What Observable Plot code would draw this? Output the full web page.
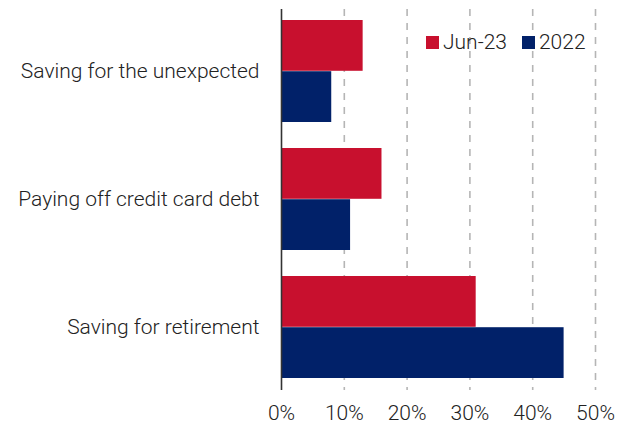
<!DOCTYPE html>
<html>
<head>
<meta charset="utf-8">
<script src="https://cdn.jsdelivr.net/npm/d3@7"></script>
<script src="https://cdn.jsdelivr.net/npm/@observablehq/plot@0.6"></script>
<style>
  html, body { margin: 0; padding: 0; background: #fff; }
  #wrap { position: relative; width: 630px; height: 431px; font-family: Roboto, "Noto Sans", sans-serif; font-weight: 300; }
  #legend { position: absolute; left: 426px; top: 30px; display: flex; align-items: center; font-size: 21px; color: #222; }
  .sw { display: inline-block; width: 13px; height: 13px; margin-right: 4px; }
  .item { display: flex; align-items: center; margin-right: 15px; }
</style>
</head>
<body>
<div id="wrap"></div>
<script>
const categories = ["Saving for the unexpected", "Paying off credit card debt", "Saving for retirement"];
const series = ["Jun-23", "2022"];
const valuesJun23 = [13, 16, 31];
const values2022 = [8, 11, 45];
const xTicks = [0, 10, 20, 30, 40, 50];
const colors = ["#C8102E", "#012169"];

const dataJun = categories.map((c, i) => ({category: c, value: valuesJun23[i]}));
const data22 = categories.map((c, i) => ({category: c, value: values2022[i]}));

const W = 630, H = 431, mt = 9, mb = 41, pIn = 0.2, pOut = 0.088;
const step = (H - mt - mb) / (categories.length - pIn + 2 * pOut);
const half = step * (1 - pIn) / 2;

const chart = Plot.plot({
  width: W,
  height: H,
  marginLeft: 281,
  marginRight: 35,
  marginTop: mt,
  marginBottom: mb,
  style: {fontFamily: "Roboto, 'Noto Sans', sans-serif", fontWeight: 300, fontSize: "21px", color: "#222", background: "#fff"},
  x: {domain: [0, 50], ticks: xTicks, tickFormat: d => d + "%", tickSize: 0, tickPadding: 15, label: null},
  y: {domain: categories, paddingInner: pIn, paddingOuter: pOut, tickSize: 0, tickPadding: 22, label: null},
  marks: [
    Plot.ruleX(xTicks.filter(d => d > 0), {stroke: "#b5b5b5", strokeWidth: 1.6, strokeDasharray: "7,7"}),
    Plot.barX(dataJun, {x: "value", y: "category", fill: colors[0], insetBottom: half, insetTop: 0}),
    Plot.barX(data22, {x: "value", y: "category", fill: colors[1], insetTop: half, insetBottom: 0}),
    Plot.ruleX([0], {stroke: "#333", strokeWidth: 1.6})
  ]
});
const wrap = document.getElementById("wrap");
wrap.appendChild(chart);
const leg = document.createElement("div");
leg.id = "legend";
series.forEach((s, i) => {
  const it = document.createElement("div");
  it.className = "item";
  const sw = document.createElement("span");
  sw.className = "sw";
  sw.style.background = colors[i];
  const t = document.createElement("span");
  t.textContent = s;
  it.appendChild(sw); it.appendChild(t);
  leg.appendChild(it);
});
wrap.appendChild(leg);
</script>
</body>
</html>
